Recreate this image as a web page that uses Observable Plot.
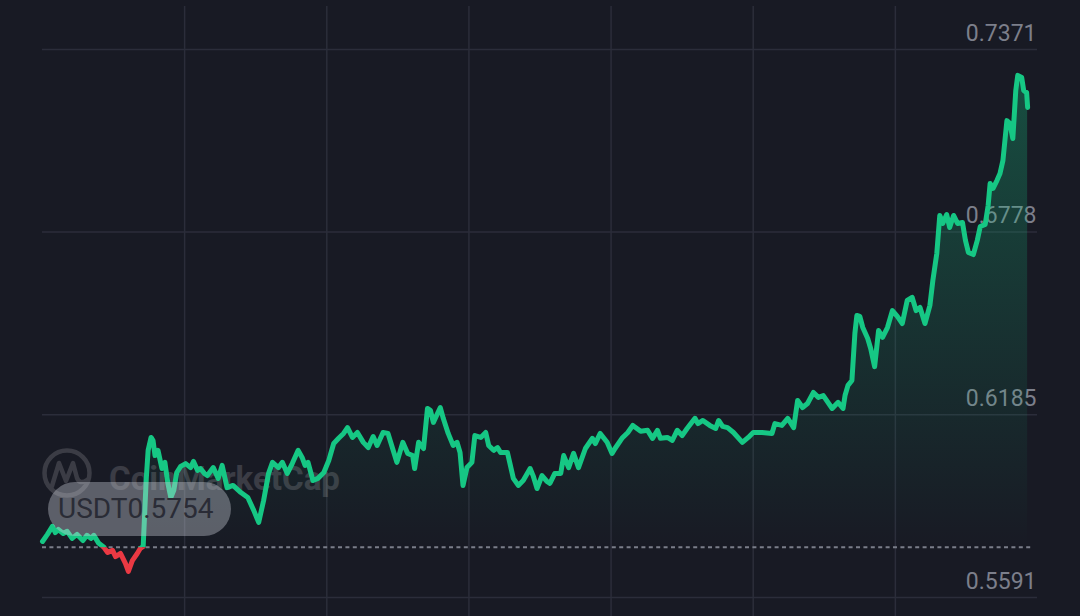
<!DOCTYPE html>
<html><head><meta charset="utf-8">
<script src="https://cdn.jsdelivr.net/npm/d3@7"></script>
<script src="https://cdn.jsdelivr.net/npm/@observablehq/plot@0.6"></script>
<style>
html,body{margin:0;padding:0;background:#181a24;}
#chart{width:1080px;height:616px;position:relative;overflow:hidden}
</style></head><body><div id="chart"></div>
<script>
// 10-minute bar index over a 7-day window (144 bars per day)
const bars = [
0,5,10,13,16,21,25,30,35,41,
45,49,52,57,62,66,71,74,79,84,
87,91,96,99,102,105,107,110,112,114,
117,121,124,127,130,133,136,140,145,150,
153,157,160,164,167,173,178,182,187,193,
201,208,214,219,224,229,233,239,243,248,
253,259,263,266,269,274,279,285,290,295,
300,305,309,314,319,325,330,335,339,345,
350,359,365,370,375,377,381,386,390,393,
396,403,406,411,416,420,423,426,430,435,
438,444,449,452,457,461,464,471,477,482,
487,494,497,501,506,511,514,519,525,528,
533,538,543,550,557,560,565,572,577,580,
587,593,598,606,613,618,623,626,633,638,
643,648,653,661,664,669,676,682,685,689,
694,700,709,715,720,729,739,742,749,755,
761,765,770,775,781,786,791,800,806,811,
813,816,820,823,825,828,831,836,839,843,
847,851,856,861,866,871,876,881,885,889,
894,899,902,906,909,912,916,919,923,927,
932,935,938,943,947,950,955,958,960,963,
967,970,973,977,980,983,986,988,992,994,
997,998];
const prices = [
0.5773,0.5796,0.5822,0.5802,0.5812,0.5799,0.5806,0.5783,0.5796,0.5776,
0.5793,0.5783,0.5793,0.5767,0.5755,0.5737,0.5744,0.5724,0.5734,0.5702,
0.5676,0.5711,0.5734,0.5750,0.5757,0.5971,0.6069,0.6111,0.6101,0.6052,
0.6069,0.6010,0.6030,0.5962,0.5916,0.5939,0.5997,0.6017,0.6026,0.6013,
0.6033,0.6004,0.6010,0.5994,0.5987,0.6013,0.5978,0.6020,0.5948,0.5955,
0.5932,0.5916,0.5874,0.5835,0.5906,0.5994,0.6030,0.6013,0.6030,0.5994,
0.6026,0.6069,0.6046,0.6020,0.6030,0.5971,0.5978,0.5997,0.6036,0.6091,
0.6108,0.6124,0.6143,0.6111,0.6127,0.6095,0.6078,0.6114,0.6085,0.6127,
0.6124,0.6030,0.6095,0.6059,0.6052,0.6010,0.6095,0.6075,0.6205,0.6199,
0.6160,0.6208,0.6173,0.6124,0.6085,0.6095,0.6062,0.5955,0.6013,0.6030,
0.6117,0.6111,0.6127,0.6085,0.6069,0.6078,0.6062,0.6062,0.5978,0.5955,
0.5971,0.6010,0.5987,0.5945,0.5987,0.5968,0.5962,0.5994,0.5994,0.6052,
0.6013,0.6059,0.6013,0.6075,0.6108,0.6091,0.6124,0.6095,0.6059,0.6075,
0.6108,0.6127,0.6150,0.6131,0.6134,0.6108,0.6134,0.6108,0.6111,0.6101,
0.6134,0.6117,0.6140,0.6173,0.6156,0.6166,0.6150,0.6140,0.6166,0.6147,
0.6143,0.6127,0.6095,0.6111,0.6127,0.6127,0.6124,0.6156,0.6150,0.6173,
0.6143,0.6231,0.6208,0.6221,0.6257,0.6241,0.6247,0.6205,0.6225,0.6205,
0.6247,0.6280,0.6296,0.6449,0.6507,0.6504,0.6468,0.6432,0.6400,0.6341,
0.6458,0.6436,0.6468,0.6523,0.6504,0.6481,0.6556,0.6566,0.6523,0.6533,
0.6481,0.6540,0.6621,0.6709,0.6832,0.6806,0.6835,0.6793,0.6832,0.6806,
0.6809,0.6751,0.6712,0.6705,0.6751,0.6796,0.6803,0.6864,0.6936,0.6920,
0.6946,0.6968,0.7011,0.7140,0.7131,0.7082,0.7238,0.7287,0.7280,0.7238,
0.7231,0.7183];
const yTicks = [0.7371, 0.6778, 0.6185, 0.5591];
const dayTicks = [144, 288, 432, 576, 720, 864];
const openPrice = 0.5754;
const quote = "USDT";
const brand = "CoinMarketCap";

const GREEN = "#16c784", RED = "#ea3943", BG = "#181a24", GRID = "#2b2d3a";
const data = bars.map((b, i) => ({b, p: prices[i]}));

const plot = Plot.plot({
  width: 1080, height: 616,
  marginTop: 6, marginBottom: 0, marginLeft: 42, marginRight: 43,
  style: {background: BG, fontFamily: "Roboto, sans-serif", overflow: "visible"},
  x: {domain: [0, 1008], axis: null},
  y: {domain: [0.55293, 0.75107], axis: null},
  marks: [
    Plot.ruleX(dayTicks, {x: d => d, stroke: GRID, strokeWidth: 1.5}),
    Plot.ruleY(yTicks, {y: d => d, stroke: GRID, strokeWidth: 1.5}),
    Plot.text(yTicks, {y: d => d, frameAnchor: "right", text: d => d.toFixed(4),
      textAnchor: "end", lineAnchor: "bottom", dx: -1, dy: -9, fill: "#7c7f8b", fontSize: 23}),
    Plot.areaY(data, {x: "b", y1: () => openPrice, y2: "p", fill: GREEN}),
    Plot.ruleY([openPrice], {y: d => d, x1: bars[0], x2: 1002, stroke: "#7a7d89",
      strokeWidth: 2, strokeDasharray: "4,3.4"}),
    Plot.line(data, {x: "b", y: "p", stroke: GREEN, strokeWidth: 5, strokeLinejoin: "round"}),
    Plot.line(data, {x: "b", y: "p", stroke: RED, strokeWidth: 5, strokeLinejoin: "round"})
  ]
});

const svg = d3.select(plot);
const ys = plot.scale("y");
const yb = ys.apply(openPrice);
const yTop = ys.apply(d3.max(prices));
const defs = svg.insert("defs", ":first-child");
const lg = defs.append("linearGradient").attr("id", "gfill")
  .attr("gradientUnits", "userSpaceOnUse").attr("x1", 0).attr("x2", 0)
  .attr("y1", yTop).attr("y2", yb);
lg.append("stop").attr("offset", 0).attr("stop-color", GREEN).attr("stop-opacity", 0.3);
lg.append("stop").attr("offset", 1).attr("stop-color", GREEN).attr("stop-opacity", 0.0);
defs.append("clipPath").attr("id", "clipAbove").append("rect")
  .attr("x", 0).attr("y", 0).attr("width", 1080).attr("height", yb);
defs.append("clipPath").attr("id", "clipBelow").append("rect")
  .attr("x", 0).attr("y", yb).attr("width", 1080).attr("height", 616 - yb);

const area = svg.select("g[aria-label='area']");
area.attr("clip-path", "url(#clipAbove)").selectAll("path").attr("fill", "url(#gfill)").attr("fill-opacity", 1);
const lines = svg.selectAll("g[aria-label='line']").nodes();
d3.select(lines[0]).attr("clip-path", "url(#clipAbove)");
d3.select(lines[1]).attr("clip-path", "url(#clipBelow)");

// watermark (under the line)
const wm = svg.insert("g", "g[aria-label='line']").attr("opacity", 0.15);
wm.append("circle").attr("cx", 67).attr("cy", 473).attr("r", 22.5)
  .attr("fill", "none").attr("stroke", "#ffffff").attr("stroke-width", 4.5);
wm.append("path").attr("d", "M52,486 L59,463 L66,481 L73,463 L77,478 Q80,485 87,480")
  .attr("fill", "none").attr("stroke", "#ffffff").attr("stroke-width", 4.5)
  .attr("stroke-linejoin", "round").attr("stroke-linecap", "round");
wm.append("text").attr("x", 109).attr("y", 490).attr("fill", "#ffffff")
  .attr("text-anchor", "start")
  .attr("font-size", 34).attr("font-weight", 700).attr("font-family", "Roboto, sans-serif")
  .attr("textLength", 231).attr("lengthAdjust", "spacingAndGlyphs").text(brand);

// open price pill (above the line)
const pill = svg.append("g");
pill.append("rect").attr("x", 48).attr("y", 482).attr("width", 183).attr("height", 54)
  .attr("rx", 27).attr("fill", "rgba(205,208,218,0.38)");
pill.append("text").attr("x", 58).attr("y", 518).attr("fill", "#2a2c36")
  .attr("text-anchor", "start")
  .attr("font-size", 28).attr("font-family", "Roboto, sans-serif")
  .text(quote + openPrice.toFixed(4));

document.getElementById("chart").appendChild(plot);
</script></body></html>
